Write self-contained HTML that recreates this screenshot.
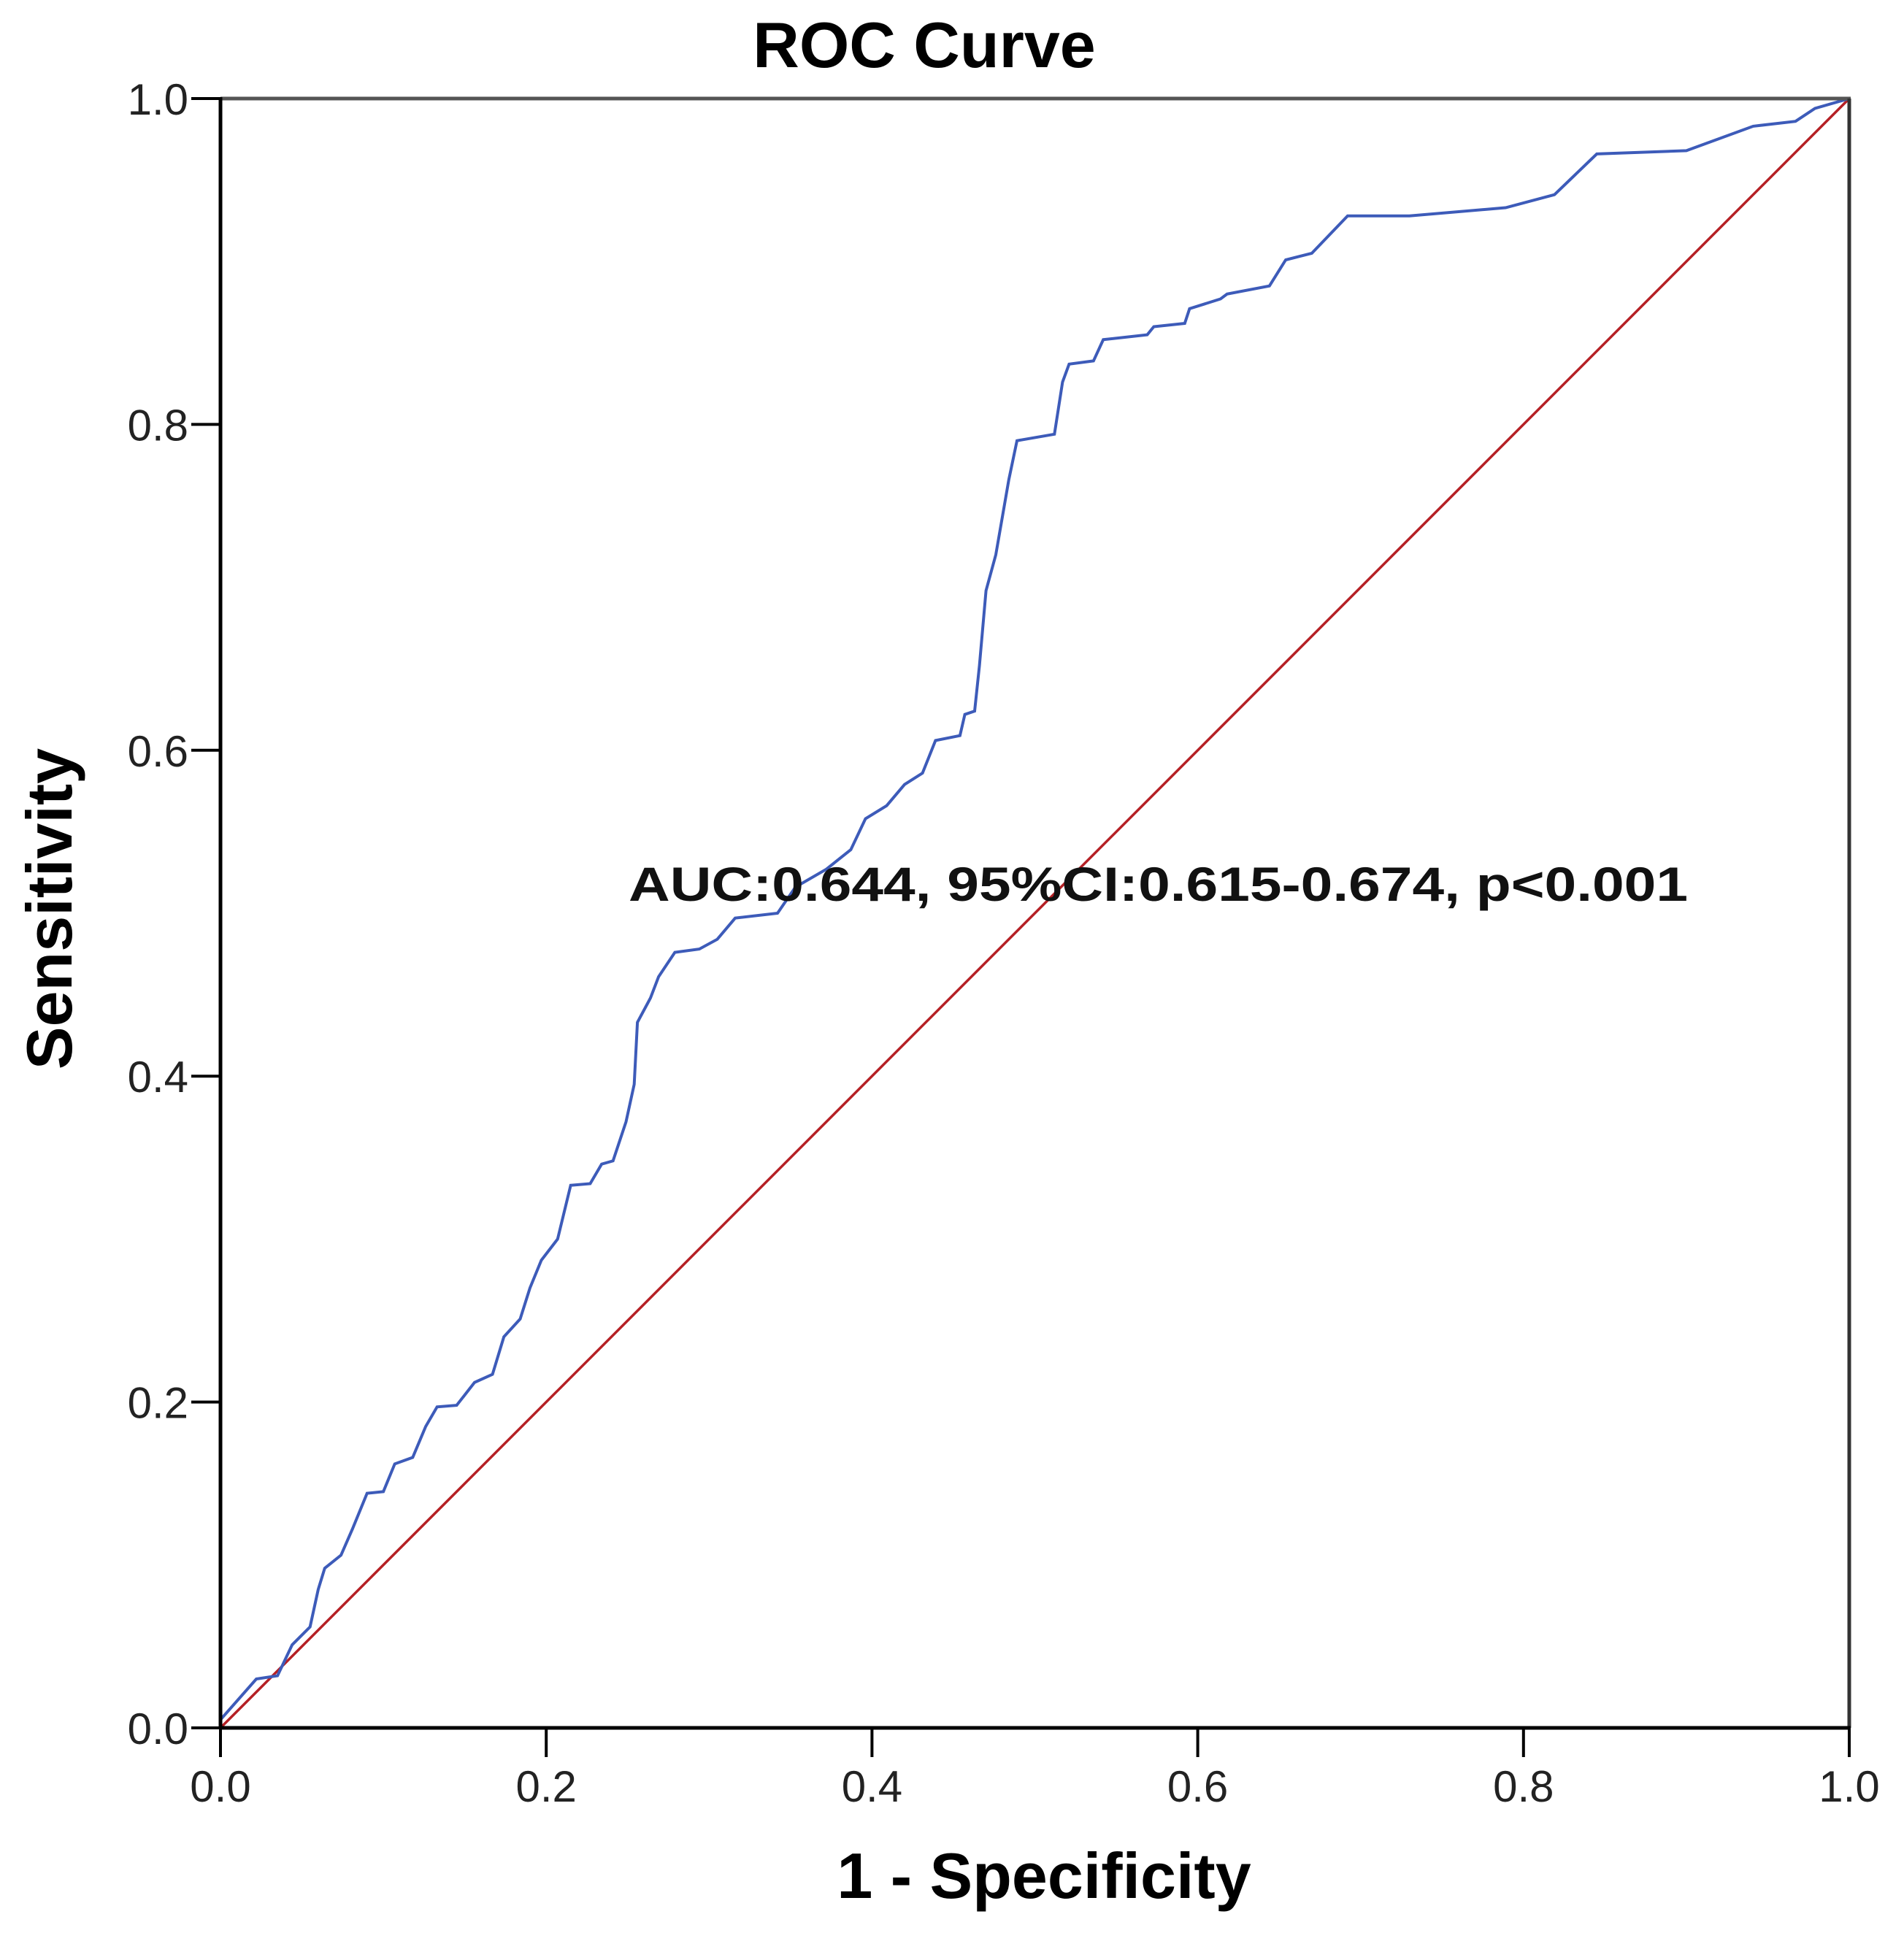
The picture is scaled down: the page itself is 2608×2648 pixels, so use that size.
<!DOCTYPE html>
<html><head><meta charset="utf-8"><style>
html,body{margin:0;padding:0;background:#fff;}
svg{display:block;}
text{font-family:"Liberation Sans",sans-serif;}
</style></head><body>
<svg id="chart" width="2608" height="2648" viewBox="0 0 2608 2648" xmlns="http://www.w3.org/2000/svg">
<rect x="0" y="0" width="2608" height="2648" fill="#fff"/>
<text x="1266" y="92" font-size="88" font-weight="bold" text-anchor="middle" fill="#000">ROC Curve</text>
<g id="plot"></g>
<text x="1430" y="2600" font-size="88" font-weight="bold" text-anchor="middle" fill="#000">1 - Specificity</text>
<text x="0" y="0" font-size="88" font-weight="bold" text-anchor="middle" fill="#000" transform="translate(98,1245) rotate(-90)">Sensitivity</text>
</svg>
<script>
const xTicks = [0, 0.2, 0.4, 0.6, 0.8, 1.0];
const yTicks = [0, 0.2, 0.4, 0.6, 0.8, 1.0];
const tickLabels = ["0.0","0.2","0.4","0.6","0.8","1.0"];
const fpr = [0,0.022,0.035,0.044,0.055,0.06,0.064,0.074,0.081,0.09,0.1,0.107,0.118,0.126,0.133,0.145,0.156,0.167,0.174,0.184,0.19,0.197,0.207,0.215,0.227,0.234,0.241,0.249,0.254,0.256,0.264,0.269,0.279,0.294,0.305,0.316,0.342,0.353,0.372,0.387,0.396,0.409,0.42,0.431,0.439,0.454,0.457,0.463,0.466,0.47,0.476,0.48,0.484,0.489,0.512,0.517,0.521,0.536,0.542,0.569,0.573,0.592,0.595,0.614,0.618,0.644,0.654,0.67,0.692,0.73,0.789,0.819,0.845,0.9,0.941,0.967,0.979,1];
const tpr = [0.005,0.03,0.032,0.051,0.062,0.085,0.098,0.106,0.122,0.144,0.145,0.162,0.166,0.185,0.197,0.198,0.212,0.217,0.24,0.251,0.27,0.287,0.3,0.333,0.334,0.346,0.348,0.372,0.395,0.433,0.448,0.461,0.476,0.478,0.484,0.497,0.5,0.516,0.527,0.539,0.558,0.566,0.579,0.586,0.606,0.609,0.622,0.624,0.652,0.698,0.72,0.743,0.766,0.79,0.794,0.826,0.837,0.839,0.852,0.855,0.86,0.862,0.871,0.877,0.88,0.885,0.901,0.905,0.928,0.928,0.933,0.941,0.966,0.968,0.983,0.986,0.994,1];
const refLine = [0, 1];
const annotation = "AUC:0.644, 95%CI:0.615-0.674, p<0.001";

const X0=302, X1=2533, Y0=2367, Y1=135;
const sx = v => X0 + v*(X1-X0);
const sy = v => Y0 - v*(Y0-Y1);
const NS="http://www.w3.org/2000/svg";
const g=document.getElementById('plot');
function mk(tag, attrs){const e=document.createElementNS(NS,tag);for(const k in attrs)e.setAttribute(k,attrs[k]);g.appendChild(e);return e;}

// reference diagonal
let d = mk('line',{x1:sx(refLine[0]),y1:sy(refLine[0]),x2:sx(refLine[1]),y2:sy(refLine[1]),stroke:'#b52025','stroke-width':3.5});



// ROC curve
let pts = fpr.map((v,i)=>sx(v).toFixed(1)+','+sy(tpr[i]).toFixed(1)).join(' ');
let c = mk('polyline',{points:pts,fill:'none',stroke:'#3d5bb9','stroke-width':4,'stroke-linejoin':'miter'});



// frame
let ft = mk('line',{x1:X0,y1:Y1,x2:X1+2,y2:Y1,stroke:'#555','stroke-width':5});


let fr = mk('line',{x1:X1,y1:Y1,x2:X1,y2:Y0,stroke:'#333','stroke-width':5});


let ax = mk('line',{x1:X0,y1:Y0,x2:X1+2,y2:Y0,stroke:'#000','stroke-width':5});


let ay = mk('line',{x1:X0,y1:Y1-2,x2:X0,y2:Y0+2,stroke:'#000','stroke-width':5});



xTicks.forEach((v,i)=>{
  let t = mk('line',{x1:sx(v),y1:Y0,x2:sx(v),y2:Y0+40,stroke:'#000','stroke-width':4});
  
  
  let l = mk('text',{x:sx(v),y:2468,'font-size':60,'text-anchor':'middle',fill:'#222'});
  l.textContent = tickLabels[i];
  
  
});
yTicks.forEach((v,i)=>{
  let t = mk('line',{x1:X0-40,y1:sy(v),x2:X0,y2:sy(v),stroke:'#000','stroke-width':4});
  
  
  let l = mk('text',{x:258,y:sy(v)+22,'font-size':60,'text-anchor':'end',fill:'#222'});
  l.textContent = tickLabels[i];
  
  
});

let a = mk('text',{x:861,y:1234,'font-size':66,'font-weight':'bold',fill:'#111',textLength:1451,lengthAdjust:'spacingAndGlyphs'});
a.textContent = annotation;


</script>
</body></html>
